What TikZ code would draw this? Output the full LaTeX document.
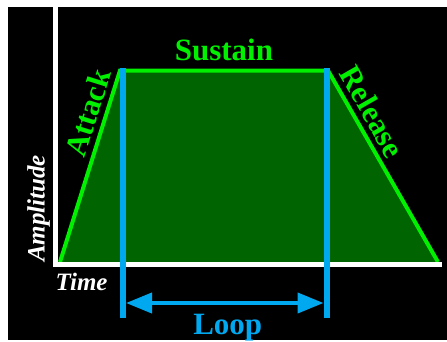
\documentclass[tikz,border=0pt]{standalone}
\usepackage{fontspec}
\setmainfont{Liberation Serif}
\usetikzlibrary{arrows.meta,positioning}
\definecolor{envgreen}{RGB}{0,240,0}
\definecolor{envfill}{RGB}{0,100,0}
\definecolor{loopblue}{RGB}{0,168,240}

\begin{document}
\begin{tikzpicture}[x=1pt, y=-1pt,
    phase/.style={text=envgreen, font=\fontsize{31}{31}\selectfont\bfseries, inner sep=2pt},
    axislabel/.style={text=white, font=\fontsize{25}{25}\selectfont\bfseries\itshape, inner sep=0pt},
    envline/.style={envgreen, line width=4pt},
    marker/.style={loopblue, line width=6pt},
    arrow/.style={{Triangle[length=26pt,width=20pt]}-{Triangle[length=26pt,width=20pt]}, loopblue, line width=4pt}
  ]
    \useasboundingbox (0,0) rectangle (447,341);
    \fill[white] (0,0) rectangle (447,341);
    \fill[black] (8,7) rectangle (447,340);

    \coordinate (top) at (55.5,7);
    \coordinate (origin) at (55.5,264.5);
    \coordinate (end) at (442,264.5);
    \coordinate (start) at (60,262);
    \coordinate (peak) at (120,70.5);
    \coordinate (hold) at (328,70.5);
    \coordinate (off) at (438,262);

    % envelope
    \fill[envfill] (start) -- (peak) -- (hold) -- (off) -- cycle;
    \draw[envline] (start) -- node[phase, sloped, above=3pt, pos=0.75] (attack) {Attack} (peak)
      -- node[phase, above=6pt] (sustain) {Sustain} (hold)
      -- node[phase, sloped, above=3pt, pos=0.26] (release) {Release} (off);

    % axes
    \draw[white, line width=4.5pt] (top) -- (origin) -- (end);
    \node[axislabel, below right=8.5pt and 0pt of origin] (time) {Time};
    \node[axislabel, rotate=90, anchor=north] (amplitude) at (27,208.5) {Amplitude};

    % loop points
    \coordinate (loopstart) at (123,68);
    \coordinate (loopstartlow) at (123,318);
    \coordinate (loopend) at (326.5,68);
    \coordinate (loopendlow) at (326.5,318);
    \draw[marker] (loopstart) -- (loopstartlow);
    \draw[marker] (loopend) -- (loopendlow);
    \coordinate (loopl) at (126,303);
    \coordinate (loopr) at (323.5,303);
    \draw[arrow] (loopl) -- node[phase, text=loopblue, below=7pt, xshift=3pt] (loop) {Loop} (loopr);
\end{tikzpicture}
\end{document}
